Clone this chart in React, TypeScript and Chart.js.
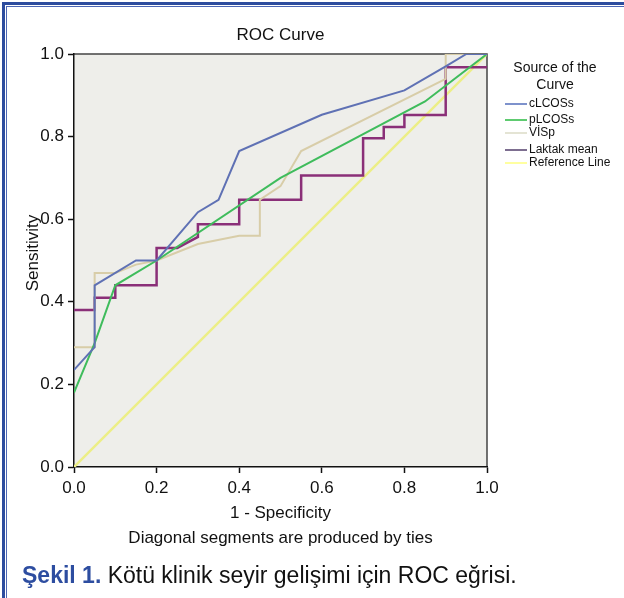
import React, { useEffect, useRef } from "react";
import { Chart, registerables } from "chart.js";

Chart.register(...registerables);

// ---- data ----
const seriesNames = ["cLCOSs", "pLCOSs", "VİSp", "Laktak mean", "Reference Line"];

const cLCOSsX = [0, 0.05, 0.05, 0.15, 0.2, 0.3, 0.35, 0.4, 0.6, 0.8, 0.9, 0.95, 1];
const cLCOSsY = [0.235, 0.29, 0.44, 0.5, 0.5, 0.617, 0.647, 0.765, 0.853, 0.912, 0.97, 1, 1];

const pLCOSsX = [0, 0.05, 0.1, 0.2, 0.5, 0.85, 1];
const pLCOSsY = [0.18, 0.3, 0.44, 0.5, 0.7, 0.885, 1];

const viSpX = [0, 0.05, 0.05, 0.1, 0.15, 0.2, 0.3, 0.4, 0.45, 0.45, 0.5, 0.55, 0.9, 0.9, 1];
const viSpY = [0.29, 0.29, 0.47, 0.47, 0.49, 0.5, 0.54, 0.56, 0.56, 0.647, 0.68, 0.765, 0.94, 1, 1];

const laktakX = [0, 0.05, 0.05, 0.1, 0.1, 0.2, 0.2, 0.25, 0.3, 0.3, 0.4, 0.4, 0.55, 0.55, 0.7, 0.7, 0.75, 0.75, 0.8, 0.8, 0.9, 0.9, 1];
const laktakY = [0.38, 0.38, 0.41, 0.41, 0.44, 0.44, 0.53, 0.53, 0.557, 0.588, 0.588, 0.647, 0.647, 0.706, 0.706, 0.796, 0.796, 0.823, 0.823, 0.852, 0.852, 0.968, 0.968];

const refX = [0, 1];
const refY = [0, 1];

const tickValues = [0, 0.2, 0.4, 0.6, 0.8, 1.0];

const lineColors = ["#5F71B4", "#3FBC5C", "#D8CDA8", "#8A2F78", "#ECEE86"];
const legendColors = ["#7E92CC", "#5ECB70", "#E4E4D4", "#7D6E90", "#FFFFA0"];
const lineWidths = [2, 2, 2, 2.5, 2.5];

const titleText = "ROC Curve";
const xTitle = "1 - Specificity";
const yTitle = "Sensitivity";
const footnote = "Diagonal segments are produced by ties";
const legendTitle = ["Source of the", "Curve"];
const captionBold = "Şekil 1.";
const captionRest = " Kötü klinik seyir gelişimi için ROC eğrisi.";

const FONT = '"Liberation Sans", Arial, Helvetica, sans-serif';

const toPoints = (xs: number[], ys: number[]) => xs.map((x, i) => ({ x, y: ys[i] }));

const decor = {
  id: "decor",
  beforeDraw(chart: any) {
    const { ctx, chartArea: a, width, height } = chart;
    ctx.save();
    ctx.fillStyle = "#ffffff";
    ctx.fillRect(0, 0, width, height);
    ctx.fillStyle = "#EEEEEA";
    ctx.fillRect(a.left, a.top, a.right - a.left, a.bottom - a.top);
    // frame (top + left)
    ctx.fillStyle = "#2D4C9E";
    ctx.fillRect(2, 2, width - 2, 3);
    ctx.fillRect(2, 2, 3, height - 2);
    ctx.fillStyle = "#4C66B4";
    ctx.fillRect(6, 6, width - 6, 1);
    ctx.fillRect(6, 6, 1, height - 6);
    // plot top/right border
    ctx.strokeStyle = "#444444";
    ctx.lineWidth = 1.5;
    ctx.beginPath();
    ctx.moveTo(a.left, a.top);
    ctx.lineTo(a.right, a.top);
    ctx.lineTo(a.right, a.bottom);
    ctx.stroke();
    ctx.restore();
  },
  afterDraw(chart: any) {
    const { ctx, chartArea: a } = chart;
    const cx = (a.left + a.right) / 2;
    ctx.save();
    ctx.fillStyle = "#111111";
    ctx.textBaseline = "middle";
    ctx.textAlign = "center";
    ctx.font = `17px ${FONT}`;
    ctx.fillText(titleText, cx, 35);
    ctx.fillText(xTitle, cx, 513);
    ctx.fillText(footnote, cx, 538);
    // y title
    ctx.save();
    ctx.translate(33, 253);
    ctx.rotate(-Math.PI / 2);
    ctx.fillText(yTitle, 0, 0);
    ctx.restore();
    // legend
    ctx.font = `14px ${FONT}`;
    ctx.fillText(legendTitle[0], 555, 68);
    ctx.fillText(legendTitle[1], 555, 85);
    const rows = [104, 120, 133, 150, 163];
    ctx.font = `12px ${FONT}`;
    ctx.textAlign = "left";
    seriesNames.forEach((n, i) => {
      ctx.strokeStyle = legendColors[i];
      ctx.lineWidth = 2;
      ctx.beginPath();
      ctx.moveTo(505, rows[i]);
      ctx.lineTo(527, rows[i]);
      ctx.stroke();
      ctx.fillStyle = "#111111";
      ctx.fillText(n, 529, rows[i]);
    });
    // caption
    ctx.font = `bold 23px ${FONT}`;
    ctx.fillStyle = "#2D4DA0";
    ctx.fillText(captionBold, 22, 577);
    const w = ctx.measureText(captionBold).width;
    ctx.font = `23px ${FONT}`;
    ctx.fillStyle = "#111111";
    ctx.fillText(captionRest, 22 + w, 577);
    ctx.restore();
  },
};

export default function App() {
  const ref = useRef<HTMLCanvasElement | null>(null);
  useEffect(() => {
    document.body.style.margin = "0";
    const xs = [cLCOSsX, pLCOSsX, viSpX, laktakX, refX];
    const ys = [cLCOSsY, pLCOSsY, viSpY, laktakY, refY];
    const chart = new Chart(ref.current as HTMLCanvasElement, {
      type: "scatter",
      data: {
        datasets: seriesNames.map((name, i) => ({
          label: name,
          data: toPoints(xs[i], ys[i]),
          showLine: true,
          borderColor: lineColors[i],
          backgroundColor: lineColors[i],
          borderWidth: lineWidths[i],
          pointRadius: 0,
          tension: 0,
          fill: false,
        })),
      },
      options: {
        animation: false,
        responsive: false,
        maintainAspectRatio: false,
        layout: { padding: { top: 54, right: 137, left: 0, bottom: 0 } },
        plugins: { legend: { display: false }, title: { display: false }, tooltip: { enabled: false } },
        scales: {
          x: {
            type: "linear",
            min: 0,
            max: 1,
            afterBuildTicks: (s: any) => {
              s.ticks = tickValues.map((v) => ({ value: v }));
            },
            afterFit: (s: any) => {
              s.height = 131;
            },
            ticks: {
              font: { family: FONT, size: 17 },
              color: "#111111",
              padding: 5,
              maxRotation: 0,
              callback: (v: any) => Number(v).toFixed(1),
            },
            grid: { drawOnChartArea: false, drawTicks: true, tickLength: 6, tickColor: "#111111", tickWidth: 1.5 },
            border: { display: true, color: "#111111", width: 1.5 },
          },
          y: {
            type: "linear",
            min: 0,
            max: 1,
            afterBuildTicks: (s: any) => {
              s.ticks = tickValues.map((v) => ({ value: v }));
            },
            afterFit: (s: any) => {
              s.width = 74;
            },
            ticks: {
              font: { family: FONT, size: 17 },
              color: "#111111",
              padding: 4,
              callback: (v: any) => Number(v).toFixed(1),
            },
            grid: { drawOnChartArea: false, drawTicks: true, tickLength: 6, tickColor: "#111111", tickWidth: 1.5 },
            border: { display: true, color: "#111111", width: 1.5 },
          },
        },
      },
      plugins: [decor],
    } as any);
    return () => chart.destroy();
  }, []);
  return (
    <div style={{ position: "absolute", left: 0, top: 0, width: 624, height: 598 }}>
      <canvas ref={ref} width={624} height={598} style={{ width: 624, height: 598, display: "block" }} />
    </div>
  );
}
